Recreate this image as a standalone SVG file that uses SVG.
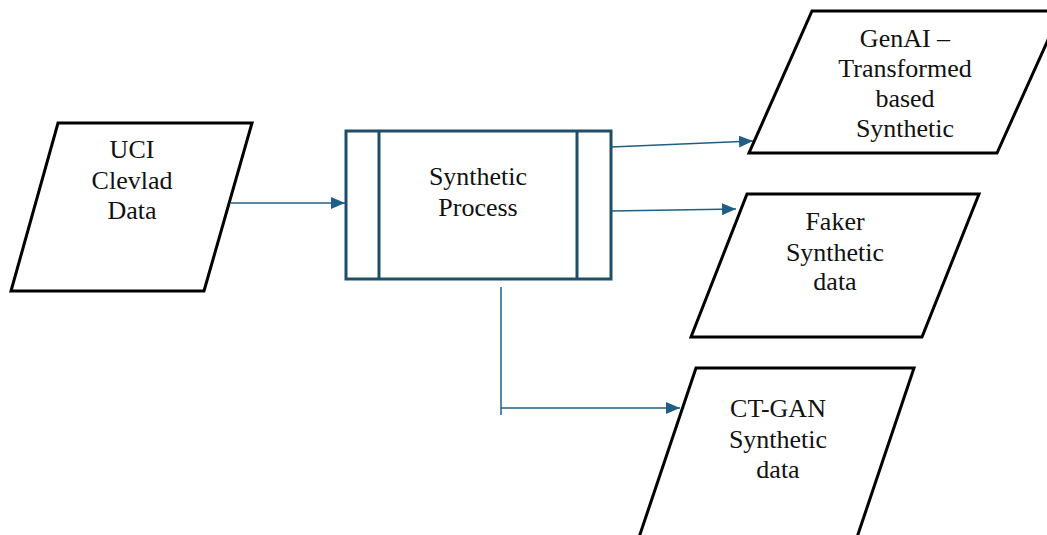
<svg xmlns="http://www.w3.org/2000/svg" width="1047" height="535" viewBox="0 0 1047 535">
<style>
.io{fill:#fff;stroke:#000;stroke-width:3;stroke-linejoin:miter}
.proc{fill:#fff;stroke:#1F4E69;stroke-width:3}
text{font-family:'Liberation Serif','Times New Roman','DejaVu Serif',serif;font-size:26px;fill:#111;text-anchor:middle}
.con{fill:none;stroke:#1F5F85;stroke-width:1.5}
</style>
<defs>
<marker id="ah" markerWidth="14" markerHeight="12" refX="14" refY="6" orient="auto" markerUnits="userSpaceOnUse">
<path d="M0,0 L14,6 L0,12 Z" fill="#1F5F85"/>
</marker>
</defs>
<rect width="1047" height="535" fill="#fff"/>
<g id="connectors">
<line class="con" x1="231" y1="203" x2="345" y2="203" marker-end="url(#ah)"/>
<line class="con" x1="611" y1="147" x2="753" y2="141" marker-end="url(#ah)"/>
<line class="con" x1="611" y1="211" x2="736" y2="209" marker-end="url(#ah)"/>
<polyline class="con" points="501,287 501,415"/>
<line class="con" x1="501" y1="408" x2="680" y2="408" marker-end="url(#ah)"/>
</g>
<g id="uci" font-family="Liberation Serif, serif">
<polygon class="io" points="58,123 252,123 204,291 11,291"/>
<text x="132" y="158">UCI</text>
<text x="132" y="189">Clevlad</text>
<text x="132" y="219">Data</text>
</g>
<g id="process">
<rect class="proc" x="346" y="131" width="265" height="148"/>
<line class="proc" x1="379" y1="131" x2="379" y2="279"/>
<line class="proc" x1="577" y1="131" x2="577" y2="279"/>
<text x="478" y="185">Synthetic</text>
<text x="478" y="216">Process</text>
</g>
<g id="genai">
<polygon class="io" points="812,11 1061,11 997,153 749,153"/>
<text x="905" y="47">GenAI –</text>
<text x="905" y="77">Transformed</text>
<text x="905" y="107">based</text>
<text x="905" y="137">Synthetic</text>
</g>
<g id="faker">
<polygon class="io" points="747,194 979,194 922,337 691,337"/>
<text x="835" y="230">Faker</text>
<text x="835" y="261">Synthetic</text>
<text x="835" y="290">data</text>
</g>
<g id="ctgan">
<polygon class="io" points="696,368 914,368 846,570 628,570"/>
<text x="778" y="417">CT-GAN</text>
<text x="778" y="448">Synthetic</text>
<text x="778" y="478">data</text>
</g>
</svg>
